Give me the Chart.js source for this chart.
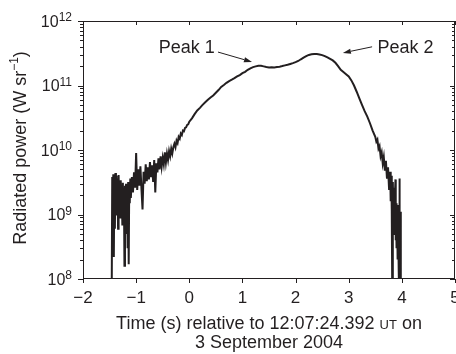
<!DOCTYPE html>
<html>
<head>
<meta charset="utf-8">
<script src="https://cdn.jsdelivr.net/npm/chart.js@4"></script>
<style>
  html, body { margin: 0; padding: 0; background: #fff; }
  canvas { display: block; }
</style>
</head>
<body>
<canvas id="radChart" width="456" height="354"></canvas>
<script>
// Time (s) relative to 12:07:24.392 UT
const times = [
  -1.46, -1.45, -1.44, -1.43, -1.42, -1.41, -1.40, -1.39, -1.38, -1.37,
  -1.36, -1.35, -1.34, -1.33, -1.32, -1.31, -1.30, -1.29, -1.28, -1.27,
  -1.26, -1.25, -1.24, -1.23, -1.22, -1.21, -1.20, -1.19, -1.18, -1.17,
  -1.16, -1.15, -1.14, -1.13, -1.12, -1.11, -1.10,
  -1.08, -1.06, -1.04, -1.02, -1.00, -0.98, -0.96, -0.94, -0.92, -0.90,
  -0.88, -0.86, -0.84, -0.82, -0.80, -0.78, -0.76, -0.74, -0.72, -0.70,
  -0.68, -0.66, -0.64, -0.62, -0.60, -0.58, -0.56, -0.54, -0.52, -0.50,
  -0.48, -0.46, -0.44, -0.42, -0.40, -0.38, -0.36, -0.34, -0.32, -0.30,
  -0.28, -0.26, -0.24, -0.22, -0.20, -0.18, -0.16, -0.14, -0.12, -0.10,
  -0.08, -0.06, -0.04, -0.02, 0.00,
  0.05, 0.10, 0.15, 0.20, 0.25, 0.30, 0.35, 0.40, 0.45, 0.50,
  0.55, 0.60, 0.65, 0.70, 0.75, 0.80, 0.85, 0.90, 0.95, 1.00,
  1.05, 1.10, 1.15, 1.20, 1.25, 1.30, 1.35, 1.40, 1.45, 1.50,
  1.55, 1.60, 1.65, 1.70, 1.75, 1.80, 1.85, 1.90, 1.95, 2.00,
  2.05, 2.10, 2.15, 2.20, 2.25, 2.30, 2.35, 2.40, 2.45, 2.50,
  2.55, 2.60, 2.65, 2.70, 2.75, 2.80, 2.85, 2.90, 2.95, 3.00,
  3.05, 3.10, 3.15, 3.20, 3.25, 3.30, 3.35, 3.40, 3.45, 3.50,
  3.52, 3.54, 3.56, 3.58, 3.60, 3.62, 3.64, 3.66, 3.68, 3.70,
  3.72, 3.74, 3.76, 3.78,
  3.79, 3.80, 3.81, 3.82, 3.83, 3.84, 3.85, 3.86, 3.87, 3.88,
  3.885, 3.89, 3.90, 3.91, 3.92, 3.93, 3.94, 3.95, 3.955, 3.96,
  3.97, 3.98
];

// Radiated power (W sr^-1)
const power = [
  5e7, 3.8e9, 1.2e9, 4.2e9, 2.2e8, 3.5e9, 6e8, 4.4e9, 2.0e9, 4.0e9,
  1.0e9, 3.6e9, 6e8, 4.1e9, 1.6e9, 3.0e9, 9e8, 3.4e9, 1.4e9, 2.6e9,
  7e8, 3.1e9, 1.2e9, 2.4e9, 1.6e8, 2.8e9, 5e8, 3.0e9, 1.1e9, 2.5e9,
  3e8, 3.2e9, 1.7e8, 2.9e9, 1.5e9, 3.6e9, 1.8e9,
  3.8e9, 2.2e9, 4.5e9, 2.6e9, 9.0e9, 2.4e9, 5.0e9, 2.8e9, 5.6e9, 2.5e9,
  1.2e9, 4.6e9, 3.0e9, 6.0e9, 3.3e9, 5.4e9, 3.5e9, 6.5e9, 3.8e9, 5.8e9,
  3.2e9, 7.0e9, 2.2e9, 6.2e9, 4.5e9, 7.4e9, 5.0e9, 8.0e9, 5.5e9, 7.6e9,
  6.0e9, 9.2e9, 6.4e9, 8.8e9, 7.0e9, 9.6e9, 8.0e9, 1.05e10, 8.8e9, 1.1e10,
  1.25e10, 1.1e10, 1.4e10, 1.28e10, 1.6e10, 1.5e10, 1.8e10, 1.7e10, 2.0e10, 1.95e10,
  2.2e10, 2.25e10, 2.45e10, 2.5e10, 2.75e10,
  3.1e10, 3.6e10, 4.1e10, 4.5e10, 5.0e10, 5.5e10, 6.0e10, 6.5e10, 7.0e10, 7.7e10,
  8.5e10, 9.5e10, 1.02e11, 1.1e11, 1.17e11, 1.23e11, 1.3e11, 1.38e11, 1.45e11, 1.55e11,
  1.63e11, 1.75e11, 1.85e11, 1.93e11, 1.98e11, 2.03e11, 2.02e11, 1.98e11, 1.93e11, 1.9e11,
  1.92e11, 1.9e11, 1.93e11, 1.96e11, 2.0e11, 2.05e11, 2.1e11, 2.16e11, 2.22e11, 2.3e11,
  2.4e11, 2.55e11, 2.7e11, 2.85e11, 2.98e11, 3.05e11, 3.08e11, 3.07e11, 3.03e11, 2.96e11,
  2.85e11, 2.72e11, 2.58e11, 2.45e11, 2.25e11, 2.0e11, 1.75e11, 1.62e11, 1.5e11, 1.38e11,
  1.2e11, 1.0e11, 8.0e10, 6.3e10, 5.0e10, 4.0e10, 3.3e10, 2.6e10, 2.0e10, 1.6e10,
  1.35e10, 1.45e10, 1.05e10, 1.15e10, 8.0e9, 9.2e9, 6.2e9, 7.8e9, 4.8e9, 6.8e9,
  3.6e9, 5.4e9, 2.4e9, 4.6e9,
  1.6e9, 4.0e9, 1.2e9, 5e7, 3.2e9, 1.0e9, 2.6e9, 5e8, 2.0e9, 3.5e9,
  4e8, 1.5e9, 3e8, 1.4e9, 2e8, 1.0e9, 1.5e8, 5e7, 3.6e9, 6e8,
  1.1e9, 5e7
];

const xTicks = [-2, -1, 0, 1, 2, 3, 4, 5];
const yExponents = [8, 9, 10, 11, 12];

// arrow annotations, in data coordinates
const notes = [
  { text: 'Peak 1', tx: 0.48, ty: 3.2e11, align: 'right',
    from: [0.54, 3.3e11], to: [1.18, 2.32e11] },
  { text: 'Peak 2', tx: 3.54, ty: 3.2e11, align: 'left',
    from: [3.44, 3.98e11], to: [2.89, 3.2e11] }
];

const INK = '#231f20';
const FONT = '"Liberation Sans", Arial, Helvetica, sans-serif';

const framePlugin = {
  id: 'frame',
  afterDraw(chart) {
    const ctx = chart.ctx;
    const { left, right, top, bottom } = chart.chartArea;
    const xs = chart.scales.x, ys = chart.scales.y;
    ctx.save();
    ctx.strokeStyle = INK;
    ctx.fillStyle = INK;
    ctx.lineWidth = 1;

    // box
    ctx.strokeRect(left + 0.5, top + 0.5, right - left - 1, bottom - top - 1);

    // x ticks: out at bottom, in at top
    ctx.beginPath();
    xTicks.forEach(v => {
      const px = Math.round(xs.getPixelForValue(v)) + 0.5;
      ctx.moveTo(px, bottom); ctx.lineTo(px, bottom + 4);
      ctx.moveTo(px, top); ctx.lineTo(px, top + 4);
    });
    // y ticks: out at left, in at right, with minor ticks
    for (let i = 0; i < yExponents.length; i++) {
      const e = yExponents[i];
      const mults = i < yExponents.length - 1 ? [1, 2, 3, 4, 5, 6, 7, 8, 9] : [1];
      mults.forEach(m => {
        const py = Math.round(ys.getPixelForValue(m * Math.pow(10, e))) + 0.5;
        const len = m === 1 ? 5 : 3;
        ctx.moveTo(left - len, py); ctx.lineTo(left + 1, py);
        ctx.moveTo(right - len, py); ctx.lineTo(right, py);
      });
    }
    ctx.stroke();

    // x tick labels
    ctx.font = '17px ' + FONT;
    ctx.textAlign = 'center';
    ctx.textBaseline = 'alphabetic';
    xTicks.forEach(v => {
      const label = v < 0 ? '\u2212' + Math.abs(v) : String(v);
      ctx.fillText(label, xs.getPixelForValue(v), 303);
    });

    // y tick labels 10^n
    ctx.textAlign = 'left';
    yExponents.forEach(e => {
      const py = ys.getPixelForValue(Math.pow(10, e));
      ctx.font = '16px ' + FONT;
      const wb = ctx.measureText('10').width;
      ctx.font = '12px ' + FONT;
      const we = ctx.measureText(String(e)).width;
      const x0 = left - 11 - wb - we;
      ctx.font = '16px ' + FONT;
      ctx.fillText('10', x0, py + 5.5);
      ctx.font = '12px ' + FONT;
      ctx.fillText(String(e), x0 + wb, py);
    });

    // y axis title
    ctx.save();
    ctx.translate(21, 148);
    ctx.rotate(-Math.PI / 2);
    ctx.font = '18px ' + FONT;
    const partA = 'Radiated power (W sr';
    const partB = ')';
    const wa = ctx.measureText(partA).width;
    ctx.font = '12px ' + FONT;
    const ws = ctx.measureText('\u22121').width;
    ctx.font = '18px ' + FONT;
    const wbp = ctx.measureText(partB).width;
    let sx = -(wa + ws + wbp) / 2;
    ctx.textBaseline = 'middle';
    ctx.fillText(partA, sx, 0);
    ctx.font = '12px ' + FONT;
    ctx.fillText('\u22121', sx + wa, -6);
    ctx.font = '18px ' + FONT;
    ctx.fillText(partB, sx + wa + ws, 0);
    ctx.restore();

    // x axis title (two lines, "UT" in small caps)
    const cx = (left + right) / 2;
    const p1 = 'Time (s) relative to 12:07:24.392 ', p2 = 'UT', p3 = ' on';
    ctx.font = '18px ' + FONT;
    const w1 = ctx.measureText(p1).width, w3 = ctx.measureText(p3).width;
    ctx.font = '13px ' + FONT;
    const w2 = ctx.measureText(p2).width;
    let tx = cx - (w1 + w2 + w3) / 2;
    ctx.textAlign = 'left';
    ctx.textBaseline = 'alphabetic';
    ctx.font = '18px ' + FONT;
    ctx.fillText(p1, tx, 329);
    ctx.font = '13px ' + FONT;
    ctx.fillText(p2, tx + w1, 329);
    ctx.font = '18px ' + FONT;
    ctx.fillText(p3, tx + w1 + w2, 329);
    ctx.textAlign = 'center';
    ctx.fillText('3 September 2004', cx, 348);

    // annotations
    notes.forEach(n => {
      ctx.font = '18px ' + FONT;
      ctx.textAlign = n.align;
      ctx.fillText(n.text, xs.getPixelForValue(n.tx), ys.getPixelForValue(n.ty));
      const x1 = xs.getPixelForValue(n.from[0]), y1 = ys.getPixelForValue(n.from[1]);
      const x2 = xs.getPixelForValue(n.to[0]), y2 = ys.getPixelForValue(n.to[1]);
      const ang = Math.atan2(y2 - y1, x2 - x1);
      const hl = 8, hw = 2.6;
      ctx.beginPath();
      ctx.moveTo(x1, y1);
      ctx.lineTo(x2 - hl * Math.cos(ang), y2 - hl * Math.sin(ang));
      ctx.stroke();
      ctx.beginPath();
      ctx.moveTo(x2, y2);
      ctx.lineTo(x2 - hl * Math.cos(ang) + hw * Math.sin(ang), y2 - hl * Math.sin(ang) - hw * Math.cos(ang));
      ctx.lineTo(x2 - hl * Math.cos(ang) - hw * Math.sin(ang), y2 - hl * Math.sin(ang) + hw * Math.cos(ang));
      ctx.closePath();
      ctx.fill();
    });

    ctx.restore();
  }
};

const ctx = document.getElementById('radChart').getContext('2d');
const radChart = new Chart(ctx, {
  type: 'line',
  data: {
    datasets: [{
      data: times.map((t, i) => ({ x: t, y: power[i] })),
      borderColor: INK,
      borderWidth: 2,
      pointRadius: 0,
      tension: 0,
      fill: false
    }]
  },
  options: {
    responsive: false,
    animation: false,
    layout: { padding: { left: 83, right: 1, top: 21, bottom: 75 } },
    plugins: { legend: { display: false }, tooltip: { enabled: false } },
    scales: {
      x: { type: 'linear', min: -2, max: 5, display: false },
      y: { type: 'logarithmic', min: 1e8, max: 1e12, display: false }
    }
  },
  plugins: [framePlugin]
});
</script>
</body>
</html>
